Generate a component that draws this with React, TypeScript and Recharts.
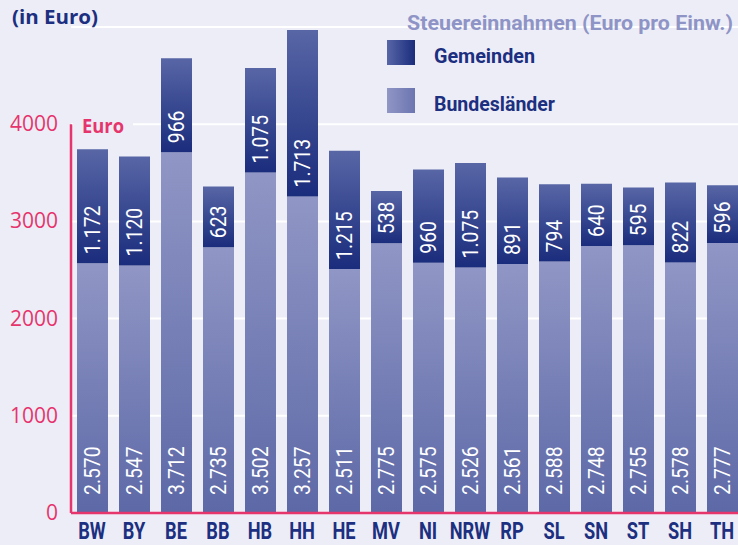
import { BarChart, Bar, XAxis, YAxis, CartesianGrid, ReferenceLine, LabelList } from "recharts"

const states = ["BW", "BY", "BE", "BB", "HB", "HH", "HE", "MV", "NI", "NRW", "RP", "SL", "SN", "ST", "SH", "TH"]
const bundeslaender = [2570, 2547, 3712, 2735, 3502, 3257, 2511, 2775, 2575, 2526, 2561, 2588, 2748, 2755, 2578, 2777]
const gemeinden = [1172, 1120, 966, 623, 1075, 1713, 1215, 538, 960, 1075, 891, 794, 640, 595, 822, 596]
const yTicks = [0, 1000, 2000, 3000, 4000]

const data = states.map((name, i) => ({
  name,
  bundeslaender: bundeslaender[i],
  gemeinden: gemeinden[i],
}))

const BG = "#ecedf6"
const PINK = "#e6356d"
const NAVY = "#1c2f80"
const ROBOTO = "Roboto, 'Noto Sans', sans-serif"
const SANS = "'Open Sans', 'Noto Sans', sans-serif"

const fmt = (n: number) =>
  n >= 1000 ? `${Math.floor(n / 1000)}.${String(n % 1000).padStart(3, "0")}` : String(n)

// white rotated value label, anchored near the bottom of its segment
const valueLabel = (offset: number) => (props: any) => {
  const x = props.x ?? props.viewBox?.x
  const y = props.y ?? props.viewBox?.y
  const width = props.width ?? props.viewBox?.width
  const height = props.height ?? props.viewBox?.height
  const cx = x + width / 2
  const by = y + height - offset
  return (
    <g transform={`translate(${cx},${by}) rotate(-90) scale(0.88,1)`}>
      <text
        x={0}
        y={0}
        fill="#fff"
        fontSize={22}
        fontFamily={ROBOTO}
        textAnchor="start"
        dominantBaseline="central"
      >
        {fmt(Number(props.value))}
      </text>
    </g>
  )
}

const CategoryTick = (props: any) => {
  const { x, y, payload } = props
  return (
    <g transform={`translate(${x},${y}) scale(0.76,1)`}>
      <text x={0} y={26} textAnchor="middle" fill={NAVY} fontSize={24} fontWeight="bold" fontFamily={ROBOTO}>
        {payload.value}
      </text>
    </g>
  )
}

const ValueTick = (props: any) => {
  const { x, y, payload } = props
  return (
    <text x={x} y={y} dy={7} textAnchor="end" fill={PINK} fontSize={21} fontFamily={SANS}>
      {payload.value}
    </text>
  )
}

export default function App() {
  return (
    <div style={{ position: "fixed", left: 0, top: 0, width: 738, height: 545, overflow: "hidden", background: BG }}>
      <BarChart width={760} height={545} data={data} margin={{ top: 27, right: 17, left: 0, bottom: 0 }}>
        <defs>
          <linearGradient id="gradGem" x1="0" y1="0" x2="0" y2="1">
            <stop offset="0%" stopColor="#5866a6" />
            <stop offset="100%" stopColor="#1a2c7c" />
          </linearGradient>
          <linearGradient id="gradLand" x1="0" y1="0" x2="0" y2="1">
            <stop offset="0%" stopColor="#9096c5" />
            <stop offset="100%" stopColor="#5d69a7" />
          </linearGradient>
        </defs>
        <CartesianGrid vertical={false} stroke="#ffffff" strokeWidth={2} />
        <XAxis
          dataKey="name"
          height={32}
          axisLine={{ stroke: PINK, strokeWidth: 2.5 }}
          tickLine={false}
          tickSize={0}
          tickMargin={0}
          interval={0}
          tick={<CategoryTick />}
        />
        <YAxis
          width={71}
          domain={[0, 5000]}
          ticks={yTicks}
          axisLine={false}
          tickLine={false}
          tickSize={0}
          tickMargin={13}
          tick={<ValueTick />}
        />
        <ReferenceLine
          segment={[{ x: "BW", y: 0 }, { x: "BW", y: 4000 }]}
          position="start"
          stroke={PINK}
          strokeWidth={2.5}
        />
        <Bar dataKey="bundeslaender" stackId="a" fill="url(#gradLand)" barSize={31} isAnimationActive={false}>
          <LabelList dataKey="bundeslaender" content={valueLabel(18)} />
        </Bar>
        <Bar dataKey="gemeinden" stackId="a" fill="url(#gradGem)" barSize={31} isAnimationActive={false}>
          <LabelList dataKey="gemeinden" content={valueLabel(9)} />
        </Bar>
      </BarChart>
      <svg width={738} height={545} style={{ position: "absolute", left: 0, top: 0, pointerEvents: "none" }}>
        <defs>
          <linearGradient id="legGem" x1="0" y1="0" x2="1" y2="0">
            <stop offset="0%" stopColor="#5866a6" />
            <stop offset="100%" stopColor="#1a2c7c" />
          </linearGradient>
          <linearGradient id="legLand" x1="0" y1="0" x2="1" y2="0">
            <stop offset="0%" stopColor="#9096c5" />
            <stop offset="100%" stopColor="#6b75b0" />
          </linearGradient>
        </defs>
        <text x={12} y={24} fill={NAVY} fontSize={20} fontWeight="bold" fontFamily={SANS} textLength={86} lengthAdjust="spacingAndGlyphs">
          (in Euro)
        </text>
        <text x={407} y={30} fill="#8f94c6" fontSize={21} fontWeight="bold" fontFamily={ROBOTO} textLength={326} lengthAdjust="spacingAndGlyphs">
          Steuereinnahmen (Euro pro Einw.)
        </text>
        <rect x={387} y={40} width={28} height={25} fill="url(#legGem)" />
        <text x={434} y={63} fill={NAVY} fontSize={21} fontWeight="bold" fontFamily={ROBOTO} textLength={101} lengthAdjust="spacingAndGlyphs">
          Gemeinden
        </text>
        <rect x={387} y={88} width={28} height={25} fill="url(#legLand)" />
        <text x={434} y={111} fill={NAVY} fontSize={21} fontWeight="bold" fontFamily={ROBOTO} textLength={121} lengthAdjust="spacingAndGlyphs">
          Bundesländer
        </text>
        <rect x={73} y={112} width={60} height={25} fill={BG} />
        <text x={82} y={133} fill={PINK} fontSize={20} fontWeight="bold" fontFamily={SANS} textLength={42} lengthAdjust="spacingAndGlyphs">
          Euro
        </text>
      </svg>
    </div>
  )
}
